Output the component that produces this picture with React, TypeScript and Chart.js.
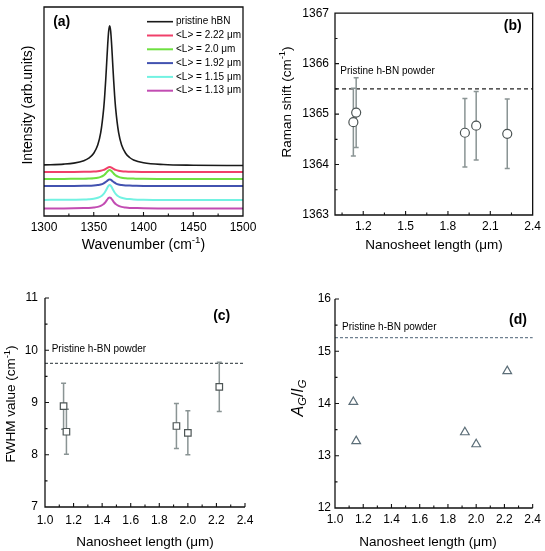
import React, { useEffect, useRef } from "react";
import { Chart, registerables } from "chart.js";

Chart.register(...registerables);

const FONT = '"Liberation Sans", Arial, Helvetica, sans-serif';

// ---------- Panel (a): Raman spectra ----------
const wavenumbers = [1300, 1320, 1330, 1340, 1345, 1350, 1354, 1357, 1360, 1361, 1362, 1363, 1364, 1365, 1366, 1367, 1368, 1369, 1370, 1371, 1372, 1375, 1378, 1382, 1386, 1390, 1400, 1420, 1450, 1500];
const pristineHBN = [52.1, 52.9, 53.9, 56.3, 58.8, 63.8, 72.0, 84.3, 108.7, 121.3, 136.7, 154.2, 172.0, 186.0, 191.3, 186.0, 172.0, 154.2, 136.7, 121.3, 108.7, 84.3, 72.0, 63.8, 59.5, 57.1, 54.3, 52.5, 51.8, 51.5];
const len222 = [45.0, 45.1, 45.1, 45.2, 45.3, 45.4, 45.7, 46.2, 47.1, 47.5, 48.1, 48.7, 49.3, 49.8, 50.0, 49.8, 49.3, 48.7, 48.1, 47.5, 47.1, 46.2, 45.7, 45.4, 45.3, 45.2, 45.1, 45.0, 45.0, 45.0];
const len200 = [38.1, 38.1, 38.2, 38.3, 38.5, 38.8, 39.3, 40.1, 41.7, 42.5, 43.5, 44.6, 45.8, 46.7, 47.0, 46.7, 45.8, 44.6, 43.5, 42.5, 41.7, 40.1, 39.3, 38.8, 38.5, 38.4, 38.2, 38.1, 38.0, 38.0];
const len192 = [31.0, 31.1, 31.1, 31.2, 31.3, 31.6, 32.0, 32.5, 33.7, 34.3, 35.0, 35.8, 36.6, 37.3, 37.5, 37.3, 36.6, 35.8, 35.0, 34.3, 33.7, 32.5, 32.0, 31.6, 31.4, 31.3, 31.1, 31.1, 31.0, 31.0];
const len115 = [17.1, 17.2, 17.3, 17.5, 17.8, 18.3, 19.2, 20.5, 23.2, 24.5, 26.2, 28.0, 29.9, 31.4, 32.0, 31.4, 29.9, 28.0, 26.2, 24.5, 23.2, 20.5, 19.2, 18.3, 17.9, 17.6, 17.3, 17.1, 17.1, 17.0];
const len113 = [8.6, 8.6, 8.7, 8.9, 9.1, 9.5, 10.1, 11.1, 13.0, 14.0, 15.2, 16.6, 18.0, 19.1, 19.5, 19.1, 18.0, 16.6, 15.2, 14.0, 13.0, 11.1, 10.1, 9.5, 9.1, 9.0, 8.7, 8.6, 8.5, 8.5];
const spectra = [pristineHBN, len222, len200, len192, len115, len113];
const spectraLabels = ["pristine hBN", "<L> = 2.22 \u03bcm", "<L> = 2.0 \u03bcm", "<L> = 1.92 \u03bcm", "<L> = 1.15 \u03bcm", "<L> = 1.13 \u03bcm"];
const spectraColors = ["#1a1a1a", "#f0406a", "#6ee040", "#4252b0", "#72f2e2", "#c24cb2"];
const wavenumberTicksMajor = [1350, 1400, 1450];
const wavenumberTicksMinor = [1325, 1375, 1425, 1475];

// ---------- Panels (b)-(d) ----------
const lengths = [1.13, 1.15, 1.92, 2.0, 2.22];
const ramanShift = [1364.84, 1365.03, 1364.63, 1364.77, 1364.61];
const ramanShiftErr = [0.67, 0.69, 0.68, 0.68, 0.69];
const pristineShift = 1365.5;
const fwhm = [8.93, 8.44, 8.55, 8.42, 9.3];
const fwhmErr = [0.44, 0.43, 0.43, 0.42, 0.47];
const pristineFwhm = 9.75;
const areaRatio = [14.03, 13.28, 13.45, 13.22, 14.62];
const pristineRatio = 15.26;

const lengthTicksB = [1.2, 1.5, 1.8, 2.1, 2.4];
const lengthMinorB = [1.05, 1.35, 1.65, 1.95, 2.25];
const shiftTicksMinor = [1363.5, 1364.5, 1365.5, 1366.5];
const shiftTicksMajor = [1364, 1365, 1366];
const lengthTicksCD = [1.0, 1.2, 1.4, 1.6, 1.8, 2.0, 2.2, 2.4];
const lengthMinorCD = [1.1, 1.3, 1.5, 1.7, 1.9, 2.1, 2.3];
const fwhmTicksMajor = [8, 9, 10, 11];
const fwhmTicksMinor = [7.5, 8.5, 9.5, 10.5];
const ratioTicksMajor = [13, 14, 15, 16];
const ratioTicksMinor = [12.5, 13.5, 14.5, 15.5];

type Part = { t: string; sup?: boolean; sub?: boolean; italic?: boolean; bold?: boolean };

function drawRich(ctx: CanvasRenderingContext2D, parts: Part[], x: number, y: number, size: number, rot = 0, align: "center" | "left" = "center") {
  ctx.save();
  ctx.translate(x, y);
  if (rot) ctx.rotate(rot);
  const fontFor = (p: Part) => `${p.italic ? "italic " : ""}${p.bold ? "bold " : ""}${p.sup || p.sub ? size * 0.7 : size}px ${FONT}`;
  let total = 0;
  const widths = parts.map((p) => {
    ctx.font = fontFor(p);
    const w = ctx.measureText(p.t).width;
    total += w;
    return w;
  });
  let cx = align === "center" ? -total / 2 : 0;
  ctx.textBaseline = "middle";
  ctx.textAlign = "left";
  ctx.fillStyle = "#000";
  parts.forEach((p, i) => {
    ctx.font = fontFor(p);
    const dy = p.sup ? -size * 0.35 : p.sub ? size * 0.3 : 0;
    ctx.fillText(p.t, cx, dy);
    cx += widths[i];
  });
  ctx.restore();
}

interface DecorCfg {
  box: boolean;
  xMajor: number[];
  xMinor: number[];
  yMajor: number[];
  yMinor: number[];
  hline?: { value: number; color: string; dash: number[] };
  errors?: { x: number[]; y: number[]; e: number[] };
  draw: (ctx: CanvasRenderingContext2D, chart: any) => void;
}

function decor(cfg: DecorCfg) {
  return {
    id: "decor",
    beforeDatasetsDraw(chart: any) {
      const { ctx, chartArea: area, scales } = chart;
      const xs = scales.x;
      const ys = scales.y;
      ctx.save();
      if (cfg.hline) {
        const py = ys.getPixelForValue(cfg.hline.value);
        ctx.strokeStyle = cfg.hline.color;
        ctx.lineWidth = 1.2;
        ctx.setLineDash(cfg.hline.dash);
        ctx.beginPath();
        ctx.moveTo(area.left, py);
        ctx.lineTo(area.right, py);
        ctx.stroke();
        ctx.setLineDash([]);
      }
      if (cfg.errors) {
        const { x, y, e } = cfg.errors;
        ctx.strokeStyle = "#8a9494";
        ctx.lineWidth = 1.5;
        x.forEach((xv, i) => {
          const px = xs.getPixelForValue(xv);
          const top = ys.getPixelForValue(y[i] + e[i]);
          const bot = ys.getPixelForValue(y[i] - e[i]);
          ctx.beginPath();
          ctx.moveTo(px, top);
          ctx.lineTo(px, bot);
          ctx.moveTo(px - 2.5, top);
          ctx.lineTo(px + 2.5, top);
          ctx.moveTo(px - 2.5, bot);
          ctx.lineTo(px + 2.5, bot);
          ctx.stroke();
        });
      }
      ctx.restore();
    },
    afterDraw(chart: any) {
      const { ctx, chartArea: area, scales } = chart;
      const xs = scales.x;
      const ys = scales.y;
      ctx.save();
      ctx.strokeStyle = "#111";
      ctx.lineWidth = 1.3;
      ctx.beginPath();
      if (cfg.box) {
        ctx.rect(area.left, area.top, area.right - area.left, area.bottom - area.top);
      } else {
        ctx.moveTo(area.left, area.top);
        ctx.lineTo(area.left, area.bottom);
        ctx.lineTo(area.right, area.bottom);
      }
      ctx.stroke();
      ctx.lineWidth = 1.1;
      ctx.beginPath();
      cfg.xMajor.forEach((v) => {
        const px = xs.getPixelForValue(v);
        ctx.moveTo(px, area.bottom);
        ctx.lineTo(px, area.bottom - 4);
      });
      cfg.xMinor.forEach((v) => {
        const px = xs.getPixelForValue(v);
        ctx.moveTo(px, area.bottom);
        ctx.lineTo(px, area.bottom - 2.5);
      });
      cfg.yMajor.forEach((v) => {
        const py = ys.getPixelForValue(v);
        ctx.moveTo(area.left, py);
        ctx.lineTo(area.left + 4, py);
      });
      cfg.yMinor.forEach((v) => {
        const py = ys.getPixelForValue(v);
        ctx.moveTo(area.left, py);
        ctx.lineTo(area.left + 2.5, py);
      });
      ctx.stroke();
      cfg.draw(ctx, chart);
      ctx.restore();
    },
  };
}

const tickFont = { size: 12, family: FONT };
const TITLE = 13.5;

function baseOptions(pad: { top: number; right: number }, xScale: any, yScale: any) {
  return {
    animation: false,
    responsive: false,
    devicePixelRatio: 1,
    layout: { padding: { left: 0, top: pad.top, right: pad.right, bottom: 0 } },
    plugins: { legend: { display: false }, tooltip: { enabled: false } },
    scales: { x: xScale, y: yScale },
  };
}

function linearAxis(min: number, max: number, ticksList: number[] | null, padding: number, fit: (s: any) => void, decimals: number, show = true) {
  return {
    type: "linear",
    min,
    max,
    grid: { display: false, drawTicks: false },
    border: { display: false },
    ticks: {
      display: show,
      padding,
      font: tickFont,
      color: "#000",
      maxRotation: 0,
      autoSkip: false,
      callback: (v: any) => Number(v).toFixed(decimals),
    },
    afterBuildTicks: ticksList ? (s: any) => { s.ticks = ticksList.map((value) => ({ value })); } : undefined,
    afterFit: fit,
  };
}

function buildA() {
  const datasets = spectra.map((ys, i) => ({
    label: spectraLabels[i],
    data: wavenumbers.map((x, j) => ({ x, y: ys[j] })),
    borderColor: spectraColors[i],
    borderWidth: i === 0 ? 1.6 : 2,
    pointRadius: 0,
    cubicInterpolationMode: "monotone",
    fill: false,
  }));
  return {
    type: "line",
    data: { datasets },
    options: baseOptions(
      { top: 7, right: 29 },
      linearAxis(1300, 1500, [1300, 1350, 1400, 1450, 1500], 4, (s) => { s.height = 59; }, 0),
      linearAxis(1, 210, null, 0, (s) => { s.width = 44; }, 0, false)
    ),
    plugins: [
      decor({
        box: true,
        xMajor: wavenumberTicksMajor,
        xMinor: wavenumberTicksMinor,
        yMajor: [],
        yMinor: [],
        draw: (ctx, chart) => {
          drawRich(ctx, [{ t: "Wavenumber (cm" }, { t: "-1", sup: true }, { t: ")" }], 143.5, 245, 14);
          drawRich(ctx, [{ t: "Intensity (arb.units)" }], 28, 105, 14, -Math.PI / 2);
          drawRich(ctx, [{ t: "(a)", bold: true }], 61.7, 22.5, 14);
          chart.data.datasets.forEach((ds: any, i: number) => {
            const y = 21.7 + i * 13.8;
            ctx.strokeStyle = ds.borderColor;
            ctx.lineWidth = i === 0 ? 1.6 : 2;
            ctx.beginPath();
            ctx.moveTo(147, y);
            ctx.lineTo(173, y);
            ctx.stroke();
            drawRich(ctx, [{ t: ds.label }], 176, y, 10, 0, "left");
          });
        },
      }),
    ],
  };
}

function scatterDataset(ys: number[], style: string, radius: number, color: string) {
  return {
    data: lengths.map((x, i) => ({ x, y: ys[i] })),
    pointStyle: style,
    pointRadius: radius,
    backgroundColor: "#fff",
    borderColor: color,
    borderWidth: 1.2,
    showLine: false,
  };
}

function buildB() {
  return {
    type: "scatter",
    data: { datasets: [scatterDataset(ramanShift, "circle", 4.5, "#4d5555")] },
    options: baseOptions(
      { top: 8, right: 12 },
      linearAxis(1.0, 2.4, lengthTicksB, 4, (s) => { s.height = 60; }, 1),
      linearAxis(1363, 1367, [1363, 1364, 1365, 1366, 1367], 6, (s) => { s.width = 63; }, 0)
    ),
    plugins: [
      decor({
        box: true,
        xMajor: lengthTicksB.slice(0, 4),
        xMinor: lengthMinorB,
        yMajor: shiftTicksMajor,
        yMinor: shiftTicksMinor,
        hline: { value: pristineShift, color: "#222", dash: [4, 3] },
        errors: { x: lengths, y: ramanShift, e: ramanShiftErr },
        draw: (ctx) => {
          drawRich(ctx, [{ t: "Nanosheet length (\u03bcm)" }], 162, 245, TITLE);
          drawRich(ctx, [{ t: "Raman shift (cm" }, { t: "-1", sup: true }, { t: ")" }], 15, 102, TITLE, -Math.PI / 2);
          drawRich(ctx, [{ t: "(b)", bold: true }], 240.8, 25.8, 14);
          drawRich(ctx, [{ t: "Pristine h-BN powder" }], 68.3, 71, 10, 0, "left");
        },
      }),
    ],
  };
}

function buildC() {
  return {
    type: "scatter",
    data: { datasets: [scatterDataset(fwhm, "rect", 4.6, "#4d5555")] },
    options: baseOptions(
      { top: 23, right: 27 },
      linearAxis(1.0, 2.4, lengthTicksCD, 6, (s) => { s.height = 44; }, 1),
      linearAxis(7, 11, [7, 8, 9, 10, 11], 7, (s) => { s.width = 45; }, 0)
    ),
    plugins: [
      decor({
        box: false,
        xMajor: lengthTicksCD.slice(1),
        xMinor: lengthMinorCD,
        yMajor: fwhmTicksMajor,
        yMinor: fwhmTicksMinor,
        hline: { value: pristineFwhm, color: "#50585c", dash: [3, 2] },
        errors: { x: lengths, y: fwhm, e: fwhmErr },
        draw: (ctx) => {
          drawRich(ctx, [{ t: "Nanosheet length (\u03bcm)" }], 145, 267.5, TITLE);
          drawRich(ctx, [{ t: "FWHM value (cm" }, { t: "-1", sup: true }, { t: ")" }], 11.7, 129, TITLE, -Math.PI / 2);
          drawRich(ctx, [{ t: "(c)", bold: true }], 221.7, 41, 14);
          drawRich(ctx, [{ t: "Pristine h-BN powder" }], 51.7, 74.5, 10, 0, "left");
        },
      }),
    ],
  };
}

function buildD() {
  return {
    type: "scatter",
    data: { datasets: [scatterDataset(areaRatio, "triangle", 5, "#5c6e78")] },
    options: baseOptions(
      { top: 24, right: 12 },
      linearAxis(1.0, 2.4, lengthTicksCD, 4, (s) => { s.height = 43; }, 1),
      linearAxis(12, 16, [12, 13, 14, 15, 16], 4, (s) => { s.width = 63; }, 0)
    ),
    plugins: [
      decor({
        box: false,
        xMajor: lengthTicksCD.slice(1),
        xMinor: lengthMinorCD,
        yMajor: ratioTicksMajor,
        yMinor: ratioTicksMinor,
        hline: { value: pristineRatio, color: "#6f8090", dash: [3, 2] },
        draw: (ctx) => {
          drawRich(ctx, [{ t: "Nanosheet length (\u03bcm)" }], 156, 267, TITLE);
          drawRich(
            ctx,
            [{ t: "A", italic: true }, { t: "G", italic: true, sub: true }, { t: "/" }, { t: "I", italic: true }, { t: "G", italic: true, sub: true }],
            26.5,
            123,
            16,
            -Math.PI / 2
          );
          drawRich(ctx, [{ t: "(d)", bold: true }], 246, 45, 14);
          drawRich(ctx, [{ t: "Pristine h-BN powder" }], 70, 52.5, 10, 0, "left");
        },
      }),
    ],
  };
}

function Panel({ build, left, top, w, h }: { build: () => any; left: number; top: number; w: number; h: number }) {
  const ref = useRef<HTMLCanvasElement>(null);
  useEffect(() => {
    const chart = new Chart(ref.current as HTMLCanvasElement, build());
    return () => chart.destroy();
  }, []);
  return <canvas ref={ref} width={w} height={h} style={{ position: "absolute", left, top, width: w, height: h }} />;
}

export default function App() {
  return (
    <div style={{ position: "absolute", left: 0, top: 0, width: 545, height: 551, background: "#fff" }}>
      <Panel build={buildA} left={0} top={0} w={272} h={275} />
      <Panel build={buildB} left={272} top={0} w={273} h={275} />
      <Panel build={buildC} left={0} top={275} w={272} h={276} />
      <Panel build={buildD} left={272} top={275} w={273} h={276} />
    </div>
  );
}
